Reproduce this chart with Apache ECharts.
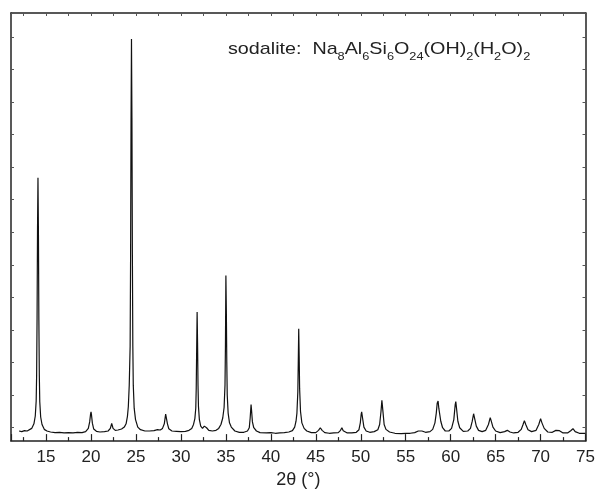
<!DOCTYPE html>
<html>
<head>
<meta charset="utf-8">
<script src="https://cdn.jsdelivr.net/npm/echarts@6/dist/echarts.min.js"></script>
<style>
html,body{margin:0;padding:0;background:#fff;}
#chart{width:598px;height:494px;}
</style>
</head>
<body>
<div id="chart"></div>
<script>
// 2-theta positions (degrees)
var twoTheta = [
  12.0,12.3,12.6,12.9,13.1,13.4,13.65,13.8,13.9,13.95,14.0,14.05,14.1,14.15,14.2,14.25,14.3,14.4,14.55,14.8,
  15.1,15.5,16.0,16.5,17.0,17.5,18.0,18.5,19.0,19.4,19.7,19.85,19.95,20.0,20.05,20.15,20.3,20.6,
  21.0,21.5,21.9,22.15,22.3,22.45,22.7,23.0,23.4,23.7,23.9,24.05,24.15,24.25,24.35,24.4,24.45,24.5,
  24.55,24.6,24.65,24.7,24.8,24.95,25.2,25.5,26.0,26.5,27.0,27.4,27.7,27.95,28.15,28.3,28.35,28.4,28.5,28.65,
  29.0,29.5,30.0,30.5,30.9,31.2,31.4,31.55,31.65,31.7,31.75,31.8,31.85,31.9,31.95,32.05,32.2,32.4,32.6,32.7,32.85,
  33.1,33.5,33.9,34.2,34.45,34.65,34.8,34.9,34.95,35.0,35.05,35.1,35.15,35.25,35.4,35.6,
  36.0,36.5,37.0,37.4,37.6,37.7,37.8,37.85,37.95,38.1,38.4,38.8,39.5,40.0,40.5,41.0,41.5,42.0,42.4,
  42.65,42.8,42.9,43.0,43.05,43.1,43.15,43.2,43.3,43.45,43.7,44.0,44.5,45.0,45.3,45.5,45.7,46.0,46.5,
  47.0,47.5,47.75,47.9,48.05,48.5,49.0,49.5,49.8,49.95,50.05,50.1,50.2,50.35,50.6,51.0,51.5,51.9,
  52.1,52.25,52.35,52.45,52.6,52.8,53.2,53.8,54.5,55.0,55.5,56.0,56.4,56.6,56.8,57.2,57.7,
  58.0,58.25,58.4,58.5,58.6,58.68,58.75,58.9,59.1,59.4,59.8,60.1,60.35,60.5,60.57,60.65,60.8,61.0,
  61.4,61.9,62.2,62.4,62.55,62.65,62.85,63.1,63.5,63.9,64.2,64.4,64.5,64.7,65.0,65.5,66.0,66.3,66.6,
  67.0,67.5,67.85,68.05,68.2,68.35,68.6,69.0,69.5,69.8,70.0,70.15,70.4,70.8,71.3,71.7,71.9,72.1,
  72.5,73.0,73.35,73.6,73.85,74.3,74.8,75.0
];
// intensity (arbitrary units, 1 unit = one y tick step)
var intensity = [
  -0.10,-0.12,-0.09,-0.10,-0.07,-0.02,0.12,0.36,0.82,1.60,3.40,6.10,7.67,6.00,3.30,1.60,0.80,0.33,0.10,-0.05,
  -0.10,-0.13,-0.15,-0.14,-0.16,-0.15,-0.16,-0.14,-0.15,-0.12,-0.02,0.18,0.42,0.49,0.40,0.14,-0.04,-0.11,
  -0.13,-0.12,-0.10,-0.02,0.13,-0.02,-0.08,-0.07,-0.04,0.02,0.12,0.35,0.65,1.30,2.50,5.20,9.40,11.93,
  9.50,5.30,2.50,1.30,0.60,0.25,0.02,-0.06,-0.10,-0.10,-0.09,-0.06,-0.07,-0.02,0.12,0.42,0.46,0.38,0.12,-0.03,
  -0.10,-0.11,-0.12,-0.11,-0.08,-0.02,0.10,0.28,0.60,1.20,2.40,3.55,2.60,1.30,0.65,0.25,0.05,-0.02,0.05,0.08,0.00,
  -0.08,-0.10,-0.08,-0.02,0.10,0.30,0.62,1.30,2.50,4.67,3.60,2.00,1.00,0.45,0.15,0.02,
  -0.10,-0.14,-0.14,-0.10,0.00,0.30,0.71,0.55,0.18,0.00,-0.10,-0.15,-0.16,-0.15,-0.17,-0.16,-0.15,-0.13,-0.09,
  0.02,0.20,0.45,1.10,2.00,3.04,2.20,1.20,0.50,0.15,-0.02,-0.10,-0.15,-0.15,-0.08,0.00,-0.08,-0.15,-0.17,
  -0.16,-0.15,-0.08,0.00,-0.09,-0.16,-0.16,-0.14,-0.06,0.15,0.42,0.49,0.30,0.02,-0.10,-0.14,-0.12,-0.06,
  0.10,0.50,0.84,0.55,0.10,-0.05,-0.13,-0.17,-0.18,-0.17,-0.17,-0.15,-0.10,-0.06,-0.10,-0.14,-0.12,
  -0.05,0.15,0.45,0.75,0.82,0.60,0.62,0.20,0.00,-0.10,-0.10,-0.02,0.25,0.70,0.80,0.60,0.20,0.00,
  -0.11,-0.10,-0.02,0.20,0.43,0.30,0.05,-0.08,-0.12,-0.08,0.10,0.31,0.22,0.02,-0.10,-0.15,-0.12,-0.08,-0.13,
  -0.16,-0.14,-0.05,0.10,0.22,0.10,-0.06,-0.12,-0.08,0.10,0.28,0.15,-0.02,-0.13,-0.14,-0.08,-0.03,-0.09,
  -0.16,-0.16,-0.09,-0.03,-0.12,-0.17,-0.17,-0.17
];
var xTickLabels = ['15','20','25','30','35','40','45','50','55','60','65','70','75'];
var xRange = [11.1, 75];
var yRange = [-0.41, 12.73];
var xAxisTitle = '2\u03b8 (\u00b0)';
var subtitleParts = ['sodalite:  Na','8','Al','6','Si','6','O','24','(OH)','2','(H','2','O)','2'];

var points = twoTheta.map(function (x, i) { return [x, intensity[i]]; });

var richText = subtitleParts.map(function (p, i) {
  return (i % 2 === 0 ? '{m|' : '{s|') + p + '}';
}).join('');

var chart = echarts.init(document.getElementById('chart'), null, {renderer: 'canvas'});
var axisColor = '#222';
var FONT = '"Liberation Sans", Arial, sans-serif';

chart.setOption({
  animation: false,
  backgroundColor: '#fff',
  grid: {left: 11, right: 12, top: 13, bottom: 52, containLabel: false},
  xAxis: [{
    type: 'value', position: 'bottom',
    min: xRange[0], max: xRange[1],
    splitNumber: 13, minInterval: 5, maxInterval: 5,
    axisLine: {show: true, onZero: false, lineStyle: {color: axisColor, width: 1.5}},
    axisTick: {show: true, inside: true, length: 7, lineStyle: {color: axisColor, width: 1.2}},
    minorTick: {show: true, splitNumber: 2, length: 4, lineStyle: {color: axisColor, width: 1.2}},
    splitLine: {show: false},
    axisLabel: {
      show: true, margin: 8, color: '#222', fontSize: 17, fontFamily: FONT,
      showMinLabel: false,
      formatter: function (v) {
        var s = String(Math.round(v));
        return (Math.abs(v - Math.round(v)) < 1e-6 && xTickLabels.indexOf(s) >= 0) ? s : '';
      }
    },
    name: xAxisTitle, nameLocation: 'middle', nameGap: 29,
    nameTextStyle: {color: '#222', fontSize: 18, fontFamily: FONT}
  }, {
    type: 'value', position: 'top',
    min: xRange[0], max: xRange[1],
    splitNumber: 26, minInterval: 2.5, maxInterval: 2.5,
    axisLine: {show: true, onZero: false, lineStyle: {color: axisColor, width: 1.5}},
    axisTick: {show: true, inside: true, length: 3, lineStyle: {color: '#555', width: 1}},
    axisLabel: {show: false},
    splitLine: {show: false}
  }],
  yAxis: [{
    type: 'value', position: 'left',
    min: yRange[0], max: yRange[1],
    splitNumber: 13, minInterval: 1, maxInterval: 1,
    axisLine: {show: true, onZero: false, lineStyle: {color: axisColor, width: 1.5}},
    axisTick: {show: true, inside: true, length: 3, lineStyle: {color: '#555', width: 1}},
    axisLabel: {show: false},
    splitLine: {show: false}
  }, {
    type: 'value', position: 'right',
    min: yRange[0], max: yRange[1],
    splitNumber: 13, minInterval: 1, maxInterval: 1,
    axisLine: {show: true, onZero: false, lineStyle: {color: axisColor, width: 1.5}},
    axisTick: {show: true, inside: true, length: 3, lineStyle: {color: '#555', width: 1}},
    axisLabel: {show: false},
    splitLine: {show: false}
  }],
  graphic: [{
    type: 'text', x: 228, y: 41, scaleX: 1.16, z: 10,
    style: {
      text: richText,
      fill: '#222',
      rich: {
        m: {fontSize: 17, fontFamily: FONT, lineHeight: 16, verticalAlign: 'top', fill: '#222'},
        s: {fontSize: 11, fontFamily: FONT, lineHeight: 11, verticalAlign: 'top', padding: [10, 0, 0, 0], fill: '#222'}
      }
    }
  }],
  series: [{
    type: 'line', xAxisIndex: 0, yAxisIndex: 0,
    data: points, showSymbol: false, symbol: 'none',
    lineStyle: {color: '#111', width: 1.2},
    smooth: false
  }]
});
</script>
</body>
</html>
